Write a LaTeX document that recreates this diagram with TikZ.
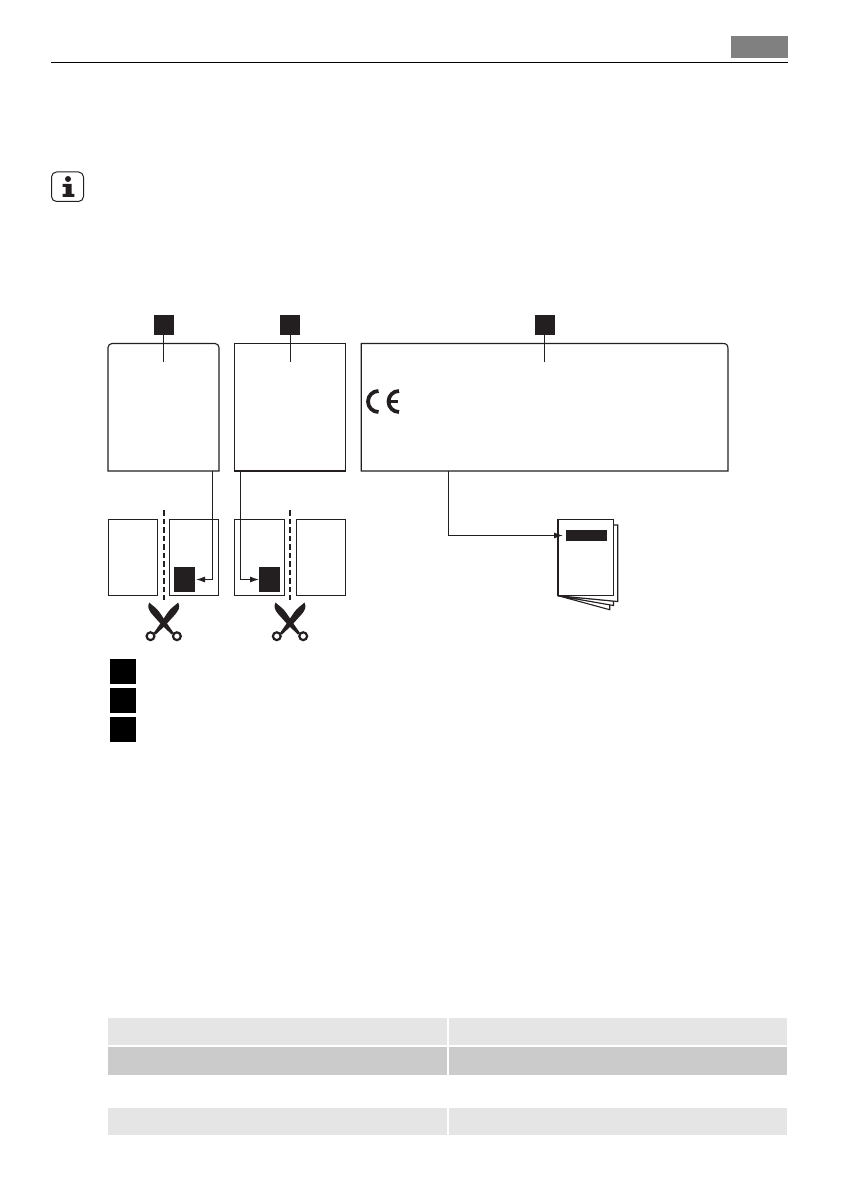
\documentclass[tikz,border=0pt]{standalone}
\usepackage{tikz}
\usepackage{xcolor}
\usetikzlibrary{positioning,arrows.meta,calc}
\definecolor{inkblk}{HTML}{231F20}
\definecolor{cellA}{HTML}{E5E5E5}
\definecolor{cellB}{HTML}{CBCBCB}

\begin{document}
\begin{tikzpicture}[
          x=1pt, y=-1pt,
          panel/.style={inner sep=0, outer sep=0},
          sheet/.style={draw=inkblk, line width=1.1pt, fill=white, inner sep=0, outer sep=0},
          tagbox/.style={fill=inkblk, inner sep=0, outer sep=0},
          keybox/.style={fill=black, inner sep=0, outer sep=0, minimum width=26pt, minimum height=25pt},
          cell/.style={inner sep=0, outer sep=0, minimum width=338.5pt},
          wire/.style={draw=inkblk, line width=1.1pt},
          wirearrow/.style={wire, -{Latex[length=9pt,width=6pt]}},
          cutline/.style={draw=inkblk, line width=2pt, dash pattern=on 5.5pt off 3pt},
          cutter/.pic={
            \foreach \s in {1,-1} {
              \begin{scope}[xscale=\s]
                \fill[inkblk] (-14.5,-19.5) .. controls (-11.5,-16.5) and (-7.5,-14.5) .. (-4,-9.5)
                  -- (3,1) -- (10,11) -- (8,12.5) -- (-1.5,3.5) -- (-10.5,-6.5)
                  .. controls (-15.5,-12) and (-16.5,-15) .. (-14.5,-19.5) -- cycle;
                \draw[inkblk, line width=2.2pt, fill=white] (13.2,14.2) circle (3.9);
              \end{scope}
            }
          }
      ]
        \useasboundingbox (0,0) rectangle (840,1190);
        % page head
        \node[fill=gray, inner sep=0, minimum width=57pt, minimum height=22pt] (headtab) at (759.5,47) {};
        \coordinate (ruleL) at (51,62.5);
        \coordinate (ruleR) at (788,62.5);
        \draw[line width=1.2pt, black] (ruleL) -- (ruleR);
        % info icon
        \draw[inkblk, line width=1pt, rounded corners=5pt] (51.5,172) rectangle (83.5,201.5);
        \fill[inkblk] (68,179) circle (3);
        \fill[inkblk] (62.5,184) -- (71.5,184) -- (71.5,194) -- (74.3,194) -- (74.3,197) -- (62.5,197)
          -- (62.5,194) -- (65.5,194) -- (65.5,187) -- (62.5,187) -- cycle;
        % rating plates
        \node[panel, minimum width=111pt, minimum height=127.5pt] (plateA) at (163.5,407.25) {};
        \node[panel, minimum width=111pt, minimum height=127.5pt] (plateB) at (290.2,407.25) {};
        \node[panel, minimum width=366.7pt, minimum height=127.5pt] (plateC) at (544.6,407.25) {};
        \draw[wire, rounded corners=4pt] (plateA.south west) -- (plateA.north west) -- (plateA.north east) [sharp corners] -- (plateA.south east) -- cycle;
        \draw[wire] (plateB.south west) rectangle (plateB.north east);
        \draw[wire] (plateC.north east) ++(-5,0) -- (plateC.north west) -- (plateC.south west) -- (plateC.south east) -- ($(plateC.north east)+(0,5)$)
          .. controls ($(plateC.north east)+(0,1.5)$) and ($(plateC.north east)+(-1.5,0)$) .. ($(plateC.north east)+(-5,0)$);
        % markers on top
        \node[tagbox, minimum width=20.5pt, minimum height=20pt] (markA) at (163.8,325) {};
        \node[tagbox, minimum width=20.5pt, minimum height=20pt] (markB) at (290,325) {};
        \node[tagbox, minimum width=20.5pt, minimum height=20pt] (markC) at (545,325) {};
        \coordinate (stemA) at (163.5,361.7);
        \coordinate (stemB) at (290.3,361.7);
        \coordinate (stemC) at (544.3,361.7);
        \draw[wire] (163.5,335) -- (stemA);
        \draw[wire] (290.3,335) -- (stemB);
        \draw[wire] (544.3,335) -- (stemC);
        % CE sign
        \draw[inkblk, line width=3.8pt] (378.5,391) arc (270:90:10.5);
        \draw[inkblk, line width=3.8pt] (399,391) arc (270:90:10.5);
        \draw[inkblk, line width=3pt] (388.5,401.5) -- (398,401.5);
        % door strips
        \node[sheet, minimum width=49.4pt, minimum height=76pt] (stripA) at (133,557.3) {};
        \node[sheet, minimum width=49pt, minimum height=76pt] (stripB) at (193.8,557.3) {};
        \node[sheet, minimum width=50pt, minimum height=76pt] (stripC) at (259.3,557.3) {};
        \node[sheet, minimum width=49.4pt, minimum height=76pt] (stripD) at (321,557.3) {};
        \node[tagbox, minimum width=21pt, minimum height=25pt] (labelA) at (184.5,579.5) {};
        \node[tagbox, minimum width=21pt, minimum height=25pt] (labelB) at (269.5,579.5) {};
        \draw[cutline] (164,510) -- (164,600);
        \draw[cutline] (290,510) -- (290,600);
        \pic at (163.7,622) {cutter};
        \pic at (290,622) {cutter};
        % booklet
        \draw[sheet] (609.7,604.5) -- (609.7,609.7) -- (558,595.7) -- cycle;
        \draw[sheet] (613.5,601) -- (613.5,605.5) -- (558,595.7) -- cycle;
        \draw[sheet] (613.7,525) -- (617.7,525) -- (617.7,601.5) -- (558,595.7) -- cycle;
        \node[sheet, line width=1.2pt, minimum width=55.7pt, minimum height=76.4pt] (booklet) at (585.85,557.5) {};
        \node[tagbox, minimum width=41pt, minimum height=11pt] (bookbar) at (586.5,535.5) {};
        % connectors
        \coordinate (tapA) at (212.3,471);
        \coordinate (tapB) at (240.3,471);
        \coordinate (tapC) at (448.3,471);
        \draw[wirearrow, shorten >=1pt] (tapA) |- (labelA.east);
        \draw[wirearrow] (tapB) |- (labelB.west);
        \draw[wirearrow, shorten >=3pt] (tapC) |- (bookbar.west);
        % key
        \node[keybox] (keyA) at (123,671.5) {};
        \node[keybox] (keyB) at (123,700.5) {};
        \node[keybox] (keyC) at (123,729.5) {};
        % table
        \node[cell, fill=cellA, minimum height=27pt] (r1a) at (277.25,1031.5) {};
        \node[cell, fill=cellA, minimum height=27pt] (r1b) at (618,1031.5) {};
        \node[cell, fill=cellB, minimum height=28pt] (r2a) at (277.25,1061) {};
        \node[cell, fill=cellB, minimum height=28pt] (r2b) at (618,1061) {};
        \node[cell, fill=cellA, minimum height=27pt] (r3a) at (277.25,1121.5) {};
        \node[cell, fill=cellA, minimum height=27pt] (r3b) at (618,1121.5) {};
      \end{tikzpicture}
\end{document}
